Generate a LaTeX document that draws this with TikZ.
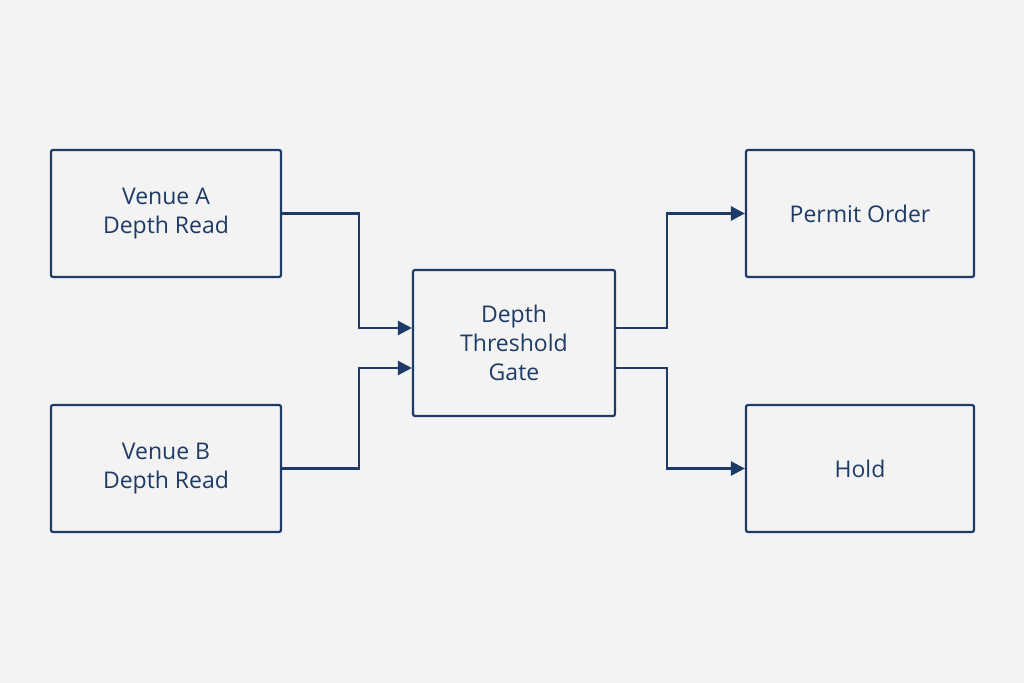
\documentclass[tikz,border=0pt]{standalone}
\usepackage{fontspec}
\setmainfont{Open Sans}
\usetikzlibrary{arrows.meta}
\definecolor{navy}{HTML}{1E3A66}
\definecolor{bg}{HTML}{F3F3F3}
\begin{document}
\begin{tikzpicture}[x=0.5pt,y=-0.5pt,
  box/.style={draw=navy,line width=1.1pt,rounded corners=1pt,text=navy,align=center,font=\fontsize{11.5}{14.5}\selectfont,inner sep=0pt},
  conn/.style={draw=navy,line width=1.3pt,-{Triangle[length=7pt,width=7pt]}}]
\fill[bg] (0,0) rectangle (1024,683);
\useasboundingbox (0,0) rectangle (1024,683);
\node[box,minimum width=115pt,minimum height=63.5pt] (a) at (166,213.5) {Venue A\\Depth Read};
\node[box,minimum width=115pt,minimum height=63.5pt] (b) at (166,468.5) {Venue B\\Depth Read};
\node[box,minimum width=101pt,minimum height=73pt] (g) at (514,343) {Depth\\Threshold\\Gate};
\node[box,minimum width=114pt,minimum height=63.5pt] (p) at (860,213.5) {Permit Order};
\node[box,minimum width=114pt,minimum height=63.5pt] (h) at (860,468.5) {Hold};
\draw[conn] (a.east) -- (359,213.5) -- (359,328) -- (g.west |- 0,328);
\draw[conn] (b.east) -- (359,468.5) -- (359,368) -- (g.west |- 0,368);
\draw[conn] (g.east |- 0,328) -- (667,328) -- (667,213.5) -- (p.west);
\draw[conn] (g.east |- 0,368) -- (667,368) -- (667,468.5) -- (h.west);
\end{tikzpicture}
\end{document}
